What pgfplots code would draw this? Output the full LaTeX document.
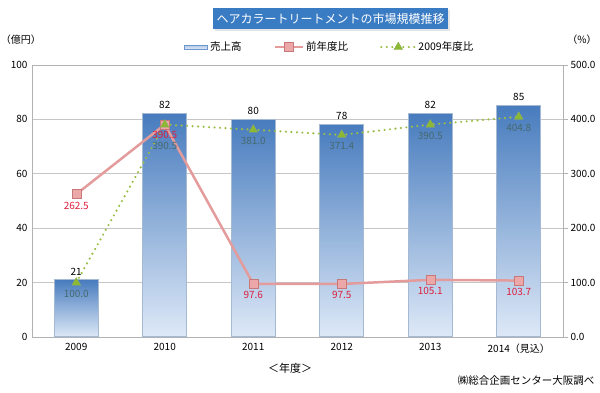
\documentclass[border=0pt]{standalone}
\usepackage{pgfplots}
\pgfplotsset{compat=1.18}
\usepackage{pgfplotstable}
\usepackage{fontspec}
\setmainfont{Noto Sans CJK JP}
\usetikzlibrary{shadows}
\definecolor{barTop}{RGB}{72,124,190}
\definecolor{barBot}{RGB}{222,233,247}
\definecolor{barEdge}{RGB}{165,185,210}
\definecolor{pinkLine}{RGB}{228,155,155}
\definecolor{pinkMark}{RGB}{236,168,168}
\definecolor{pinkEdge}{RGB}{200,120,120}
\definecolor{redLab}{RGB}{222,30,60}
\definecolor{greenLine}{RGB}{155,190,70}
\definecolor{greenMark}{RGB}{140,185,50}
\definecolor{greenEdge}{RGB}{100,140,30}
\definecolor{tealLab}{RGB}{70,105,110}
\definecolor{titleBlue}{RGB}{58,124,196}

\pgfplotstableread{
x y s
0 262.5 -4
1 390.5 -3
2 97.6 -4
3 97.5 -4
4 105.1 -4
5 103.7 -4
}\prev
\pgfplotstableread{
x y s
0 100.0 -4
1 390.5 -14
2 381.0 -4
3 371.4 -4
4 390.5 -4
5 404.8 -4
}\base

\pgfplotsset{
  salesbar/.style={ybar, bar width=44pt, bar shift=0pt, draw=barEdge, line width=1pt,
    top color=barTop, bottom color=barBot,
    nodes near coords, every node near coord/.append style={font=\fontsize{10}{11}\selectfont, text=black, yshift=1pt},
    /pgf/number format/assume math mode=true},
  legA/.style={legend image code/.code={\draw[mark repeat=2,mark phase=2,##1] plot coordinates {(0pt,0pt)(14pt,0pt)(28pt,0pt)};}},
  legB/.style={legend image code/.code={\draw[mark repeat=2,mark phase=2,##1] plot coordinates {(0pt,0pt)(17pt,0pt)(34pt,0pt)};}},
}

\begin{document}
\begin{tikzpicture}[x=1pt,y=1pt]
\path[use as bounding box] (0,0) rectangle (600,393);
\begin{axis}[
  at={(32pt,56pt)}, anchor=south west,
  scale only axis, width=531pt, height=272pt,
  xmin=-0.5, xmax=5.5, ymin=0, ymax=100,
  xtick={0,1,2,3,4,5},
  xticklabels={2009,2010,2011,2012,2013,2014（見込）},
  ytick={0,20,40,60,80,100},
  ymajorgrids, grid style={gray!45, line width=0.6pt},
  axis line style={gray!60, line width=0.6pt},
  major tick length=0pt,
  tick label style={font=\fontsize{10}{11}\selectfont, text=black},
  xticklabel style={yshift=-3pt},
  yticklabel style={xshift=-1pt},
  /pgf/number format/assume math mode=true,
  clip=false,
]
\addplot[salesbar] coordinates {(0,21)};
\addplot[salesbar] coordinates {(1,82)};
\addplot[salesbar] coordinates {(2,80)};
\addplot[salesbar] coordinates {(3,78)};
\addplot[salesbar] coordinates {(4,82)};
\addplot[salesbar] coordinates {(5,85)};
\end{axis}
\begin{axis}[
  at={(32pt,56pt)}, anchor=south west,
  scale only axis, width=531pt, height=272pt,
  xmin=-0.5, xmax=5.5, ymin=0, ymax=500,
  axis x line=none,
  axis y line*=right,
  ytick={0,100,200,300,400,500},
  axis line style={gray!60, line width=0.6pt},
  y tick style={gray!60, line width=0.6pt},
  tick align=outside, major tick length=5pt,
  tick label style={font=\fontsize{10}{11}\selectfont, text=black},
  yticklabel style={xshift=-1pt, /pgf/number format/.cd, fixed, fixed zerofill, precision=1},
  /pgf/number format/assume math mode=true,
  clip=false,
  legend columns=3,
  legend style={draw=none, fill=none, font=\fontsize{10.5}{12}\selectfont,
    at={(0.561,1.066)}, anchor=center, /tikz/every even column/.append style={column sep=30pt}},
]
\addlegendimage{legend image code/.code={\draw[draw=barTop!80, line width=0.6pt, top color=barBot!70!barTop, bottom color=barBot] (0pt,-2pt) rectangle (23pt,2pt);}}
\addlegendentry{売上高}
\addplot[pinkLine, line width=2.5pt, mark=square*, mark size=4.5pt,
  mark options={fill=pinkMark, draw=pinkEdge, line width=0.5pt},
  legA,
  visualization depends on={\thisrow{s} \as \myshift},
  nodes near coords, every node near coord/.append style={anchor=north, yshift=\myshift, text=redLab, font=\fontsize{10}{11}\selectfont},
  nodes near coords={\pgfmathprintnumber[fixed, fixed zerofill, precision=1, assume math mode=true]{\pgfplotspointmeta}}]
  table[x=x,y=y]{\prev};
\addlegendentry{前年度比}
\addplot[greenLine, line width=2.4pt, line cap=round, dash pattern=on 0pt off 5.5pt,
  mark=triangle*, mark size=5pt,
  mark options={solid, fill=greenMark, draw=greenEdge!70, line width=0.4pt},
  legB,
  visualization depends on={\thisrow{s} \as \myshift},
  nodes near coords, every node near coord/.append style={anchor=north, yshift=\myshift, text=tealLab, font=\fontsize{10}{11}\selectfont},
  nodes near coords={\pgfmathprintnumber[fixed, fixed zerofill, precision=1, assume math mode=true]{\pgfplotspointmeta}}]
  table[x=x,y=y]{\base};
\addlegendentry{2009年度比}
\end{axis}
\node[fill=titleBlue, text=white, font=\fontsize{12}{13}\selectfont, minimum width=235pt, minimum height=21pt, inner sep=0pt, drop shadow={shadow xshift=2pt, shadow yshift=-2pt, fill=gray!40}] at (330.5,374.5) {ヘアカラートリートメントの市場規模推移};
\node[font=\fontsize{10}{11}\selectfont] at (21,353) {（億円）};
\node[font=\fontsize{10}{11}\selectfont] at (582,353) {（\%）};
\node[font=\fontsize{11}{12}\selectfont] at (290,25) {＜年度＞};
\node[font=\fontsize{10.5}{12}\selectfont, anchor=east] at (598,12) {㈱総合企画センター大阪調べ};
\end{tikzpicture}
\end{document}
